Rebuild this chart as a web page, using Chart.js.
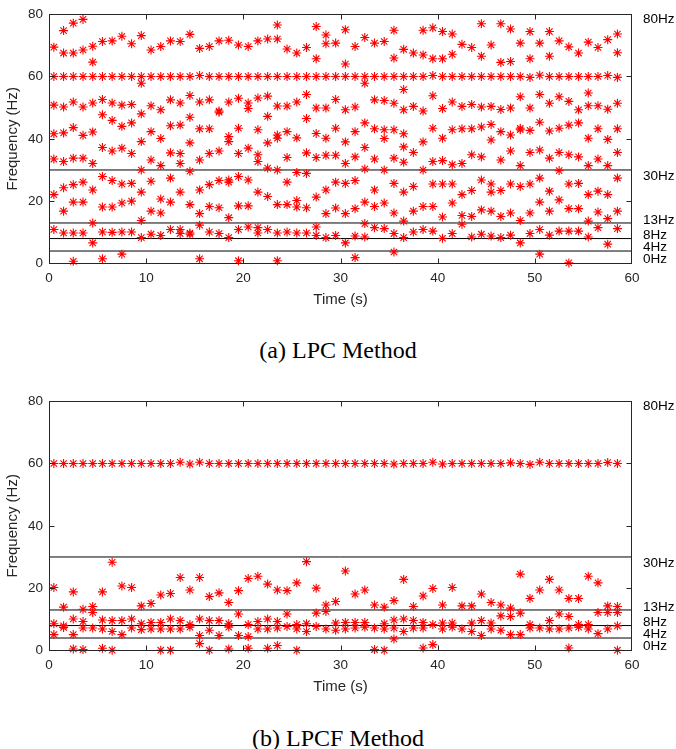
<!DOCTYPE html>
<html>
<head>
<meta charset="utf-8">
<script src="https://cdn.jsdelivr.net/npm/chart.js@4.4.1/dist/chart.umd.min.js"></script>
<style>
  body { margin: 0; background: #fff; width: 676px; height: 749px; position: relative; overflow: hidden; }
  .wrap { position: absolute; left: 0; width: 676px; height: 320px; }
  .cap { position: absolute; left: 0; width: 676px; text-align: center; font-family: 'Liberation Serif', 'Times New Roman', serif; font-size: 24px; line-height: 28px; color: #000; }
</style>
</head>
<body>
<div class="wrap" style="top:0"><canvas id="lpc"></canvas></div>
<div class="cap" style="top:336px">(a) LPC Method</div>
<div class="wrap" style="top:387px"><canvas id="lpcf"></canvas></div>
<div class="cap" style="top:724px">(b) LPCF Method</div>
<script>
// time of each analysis frame (s)
const seconds = [0.5, 1.5, 2.5, 3.5, 4.5, 5.5, 6.5, 7.5, 8.5, 9.5,
  10.5, 11.5, 12.5, 13.5, 14.5, 15.5, 16.5, 17.5, 18.5, 19.5,
  20.5, 21.5, 22.5, 23.5, 24.5, 25.5, 26.5, 27.5, 28.5, 29.5,
  30.5, 31.5, 32.5, 33.5, 34.5, 35.5, 36.5, 37.5, 38.5, 39.5,
  40.5, 41.5, 42.5, 43.5, 44.5, 45.5, 46.5, 47.5, 48.5, 49.5,
  50.5, 51.5, 52.5, 53.5, 54.5, 55.5, 56.5, 57.5, 58.5];

// LPC peak frequencies found in each frame (Hz)
const lpcFreqs = [
  [69.4, 60, 50.8, 41.6, 33.5, 22.1, 10.9],
  [74.7, 67.5, 60, 50.2, 41.9, 32.7, 24.3, 16.8, 9.8],
  [77.1, 67.5, 60, 51.8, 43.6, 33.8, 25.3, 19.7, 9.8, 0.7],
  [78.3, 68.5, 60, 50.2, 41.1, 33.8, 26.1, 19.7, 9.8],
  [69.7, 64.6, 60, 51.5, 42.2, 32.1, 23.6, 13.0, 6.6],
  [71.2, 60, 52.6, 47.7, 37.2, 27.9, 18.1, 10.1, 1.5],
  [71.4, 60, 51.5, 45.9, 36.1, 26.6, 18.1, 10.0],
  [72.9, 60, 50.8, 44.0, 37.0, 25.5, 19.4, 10.1, 3.0],
  [70.5, 60, 51.0, 45.1, 35.3, 25.7, 20.0, 10.1],
  [73.1, 60, 57.8, 48.0, 39.1, 30.0, 22.9, 13.8, 8.3],
  [68.5, 60, 50.6, 42.3, 33.2, 26.4, 16.8, 9.4],
  [69.6, 60, 49.3, 40.1, 31.4, 20.7, 16.2, 9.0],
  [71.4, 60, 52.5, 44.2, 35.5, 27.4, 19.7, 10.9],
  [71.2, 60, 51.5, 44.4, 35.3, 32.1, 22.9, 10.9, 9.6],
  [73.5, 60, 53.9, 46.9, 38.7, 29.6, 18.9, 9.8, 9.4],
  [69.0, 60.3, 51.8, 43.2, 33.2, 23.6, 16.0, 12.3, 1.5],
  [69.6, 60, 52.5, 43.2, 35.3, 25.3, 18.3, 10.1],
  [71.4, 60, 48.9, 48.5, 36.1, 26.6, 17.9, 9.6],
  [71.6, 60, 51.8, 40.7, 39.1, 26.8, 26.1, 14.7, 8.3],
  [70.1, 60, 53.0, 43.4, 35.3, 27.9, 18.5, 10.9, 0.9],
  [69.6, 60, 51.5, 49.7, 37.0, 26.8, 18.5, 11.7],
  [71.4, 60, 53.1, 42.9, 34.9, 32.7, 22.9, 11.5, 9.8],
  [72.0, 60, 53.7, 47.2, 38.7, 30.6, 21.5, 10.9],
  [76.5, 72.0, 60, 50.5, 41.2, 40.2, 30.0, 18.9, 9.8, 0.9],
  [68.8, 60, 50.5, 42.3, 34.0, 26.1, 18.9, 10.1],
  [67.5, 60, 51.8, 40.3, 29.2, 20.2, 18.1, 9.8],
  [69.3, 60, 54.2, 46.5, 35.5, 28.9, 17.9, 9.8],
  [76.0, 65.7, 60, 49.9, 41.7, 34.0, 21.3, 11.7, 9.0],
  [73.3, 70.5, 60, 49.9, 40.2, 34.7, 23.6, 16.0, 8.3],
  [70.7, 60, 52.6, 43.4, 34.7, 26.1, 17.8, 9.0],
  [75.0, 64.0, 60, 49.3, 39.0, 32.1, 25.7, 16.0, 6.6],
  [69.6, 60, 50.2, 42.3, 34.2, 26.6, 17.6, 8.8, 1.9],
  [72.5, 60, 57.8, 45.1, 37.2, 30.3, 19.7, 12.8, 8.5],
  [70.7, 60, 52.5, 43.2, 33.5, 23.6, 18.3, 11.5],
  [71.2, 60, 52.3, 42.9, 40.1, 30.0, 19.4, 11.2],
  [74.8, 65.9, 60, 51.4, 42.9, 33.8, 25.7, 16.2, 9.6, 3.7],
  [68.7, 60, 55.8, 49.3, 41.6, 37.4, 32.5, 22.9, 13.6, 8.3],
  [67.5, 60, 50.4, 35.6, 24.7, 16.8, 10.1],
  [74.8, 66.9, 60, 48.9, 39.0, 30.0, 18.3, 10.9],
  [75.6, 65.7, 60.3, 53.8, 43.4, 32.7, 25.5, 18.3, 10.4],
  [74.4, 65.7, 60, 49.7, 40.2, 33.0, 25.5, 14.9, 8.1],
  [73.6, 67.1, 60, 51.8, 42.9, 31.7, 25.5, 19.4, 9.6],
  [70.3, 60, 50.4, 43.2, 32.1, 22.1, 15.4, 12.6],
  [69.3, 60, 51.0, 43.2, 34.9, 23.4, 15.1, 8.5],
  [76.9, 66.5, 60, 50.2, 43.8, 34.2, 26.8, 17.2, 9.4],
  [70.1, 60, 50.4, 44.6, 39.6, 25.5, 22.9, 16.8, 8.8],
  [76.9, 64.5, 60, 49.4, 42.3, 33.2, 23.4, 15.1, 8.3],
  [75.2, 64.8, 60, 49.9, 41.2, 36.1, 25.5, 16.2, 9.1],
  [70.7, 60, 53.5, 43.4, 42.9, 31.4, 24.7, 13.8, 6.6],
  [74.4, 65.7, 59.7, 49.9, 42.7, 35.6, 25.5, 16.2, 9.6],
  [70.7, 60.4, 54.2, 45.3, 36.4, 27.4, 19.7, 10.9, 3.0],
  [74.4, 66.5, 60, 51.4, 42.5, 33.8, 23.2, 16.8, 9.1],
  [71.4, 60, 53.5, 43.4, 35.6, 29.8, 20.4, 10.4],
  [69.5, 60, 52.0, 44.4, 34.9, 25.5, 17.6, 10.4, 0.2],
  [67.5, 60, 49.3, 45.1, 34.2, 25.7, 17.6, 10.4],
  [71.0, 60, 54.7, 50.6, 40.2, 31.4, 22.1, 13.6, 8.5],
  [69.3, 60, 50.6, 43.2, 33.5, 23.2, 16.5, 11.5],
  [71.8, 60.3, 49.5, 39.8, 31.4, 22.1, 14.4, 6.2],
  [73.6, 67.6, 59.7, 51.4, 43.2, 35.6, 27.4, 16.8, 11.2]
];

// LPCF peak frequencies found in each frame (Hz)
const lpcfFreqs = [
  [60, 20.2, 8.6, 5.1],
  [60, 13.9, 7.9, 7.4],
  [60, 18.8, 10.1, 5.1, 0.5],
  [60, 13.2, 9.3, 7.2, 0.3],
  [60, 14.1, 12.2, 7.2],
  [60, 18.8, 9.8, 6.9, 0.7],
  [60, 28.3, 9.6, 6.1, 0.1],
  [60, 20.7, 9.6, 5.1],
  [60, 20.2, 10.1, 7.2],
  [60, 14.3, 8.6, 6.7],
  [60, 15.1, 9.0, 6.9],
  [60, 17.8, 9.0, 6.9, 0.1],
  [60, 18.3, 10.1, 6.9, 0.1],
  [60.4, 23.4, 9.6, 6.9],
  [59.8, 19.4, 8.3, 7.5],
  [60.4, 23.4, 10.1, 4.8, 2.2],
  [60, 17.3, 9.6, 6.5, 0.1],
  [60, 18.5, 9.6, 4.8],
  [60, 15.4, 8.6, 7.5, 0.5],
  [60, 19.2, 11.7, 4.8],
  [60, 23.1, 8.3, 4.5, 0.7],
  [60, 23.8, 9.3, 6.9],
  [60, 21.3, 10.1, 6.9, 0.7],
  [60, 19.4, 9.3, 7.2, 1.6],
  [60, 19.2, 11.7, 7.7],
  [60, 21.7, 8.3, 6.9, 0.1],
  [60, 28.5, 8.6, 6.1],
  [60, 20.0, 12.0, 7.7],
  [60, 14.6, 12.5, 6.9],
  [60, 15.7, 8.8, 6.5],
  [60, 25.5, 9.0, 6.9],
  [60, 18.1, 9.0, 7.2],
  [60, 19.4, 9.0, 7.5],
  [60, 14.6, 7.2, 0.3],
  [60, 13.9, 8.6, 6.9, 0.1],
  [59.8, 16.0, 9.8, 7.2, 3.7],
  [60, 22.8, 10.1, 6.1],
  [60, 14.1, 9.6, 7.2],
  [60, 17.5, 9.0, 7.2, 0.8],
  [60.4, 19.9, 8.3, 1.9],
  [59.8, 14.6, 8.8, 6.9],
  [60, 20.2, 8.8, 7.5],
  [60, 14.3, 6.9],
  [60, 14.3, 8.8, 6.1],
  [60, 18.1, 9.6, 4.8],
  [60, 15.4, 8.8, 6.9],
  [60, 14.6, 11.1, 6.5],
  [60.2, 13.6, 10.9, 5.1],
  [60, 24.5, 12.0, 5.1],
  [59.7, 16.7, 8.3, 7.2],
  [60.4, 19.4, 7.2],
  [60, 22.8, 9.6, 6.9],
  [60, 19.4, 11.7, 6.9],
  [60, 16.7, 10.9, 7.2, 0.8],
  [60, 16.7, 8.3, 7.5],
  [60, 23.8, 8.3, 6.9],
  [60, 21.7, 12.2, 5.4],
  [60.3, 14.3, 12.2, 6.9],
  [60, 14.1, 12.2, 7.9, 0.1]
];

// band boundaries and their labels on the right
const bandLines = [0, 4, 8, 13, 30];
const bandLabels = ['0Hz', '4Hz', '8Hz', '13Hz', '30Hz', '80Hz'];
const bandLabelAt = [1.4, 5.2, 9.2, 14.0, 28.1, 78.3];
const xTicks = [10, 20, 30, 40, 50];
const yTicks = [20, 40, 60];

Chart.defaults.font.family = "'Liberation Sans', Arial, Helvetica, sans-serif";
Chart.defaults.color = '#262626';

const bands = {
    id: 'bands',
    beforeDatasetsDraw(chart) {
        const { ctx, chartArea: a, scales: { y } } = chart;
        ctx.save();
        ctx.strokeStyle = '#000';
        ctx.lineWidth = 1;
        bandLines.forEach(v => {
            const py = y.getPixelForValue(v);
            ctx.beginPath();
            ctx.moveTo(a.left, py);
            ctx.lineTo(a.right, py);
            ctx.stroke();
        });
        ctx.restore();
    },
    afterDraw(chart) {
        const { ctx, chartArea: a, scales: { x, y } } = chart;
        ctx.save();
        ctx.strokeStyle = '#262626';
        ctx.lineWidth = 1;
        const l = Math.round(a.left) + 0.5, r = Math.round(a.right) - 0.5;
        const t = Math.round(a.top) + 0.5, b = Math.round(a.bottom) - 0.5;
        ctx.strokeRect(l, t, r - l, b - t);
        ctx.beginPath();
        xTicks.forEach(v => {
            const px = Math.round(x.getPixelForValue(v)) + 0.5;
            ctx.moveTo(px, b); ctx.lineTo(px, b - 5);
            ctx.moveTo(px, t); ctx.lineTo(px, t + 5);
        });
        yTicks.forEach(v => {
            const py = Math.round(y.getPixelForValue(v)) + 0.5;
            ctx.moveTo(l, py); ctx.lineTo(l + 5, py);
            ctx.moveTo(r, py); ctx.lineTo(r - 5, py);
        });
        ctx.stroke();
        ctx.fillStyle = '#000';
        ctx.font = "13.5px 'Liberation Sans', Arial, sans-serif";
        ctx.textAlign = 'left';
        ctx.textBaseline = 'middle';
        bandLabels.forEach((s, i) => {
            ctx.fillText(s, a.right + 11, y.getPixelForValue(bandLabelAt[i]));
        });
        ctx.restore();
    }
};

function makeChart(id, freqs) {
    const points = [];
    freqs.forEach((list, i) => list.forEach(f => points.push({ x: seconds[i], y: f })));
    return new Chart(document.getElementById(id), {
        type: 'scatter',
        data: {
            datasets: [{
                data: points,
                pointStyle: 'star',
                pointRadius: 4.5,
                pointBorderWidth: 1.1,
                borderColor: '#ff0000',
                backgroundColor: '#ff0000',
                clip: false
            }]
        },
        options: {
            responsive: true,
            maintainAspectRatio: false,
            animation: false,
            layout: { padding: { left: 0, top: 12.5, right: 44, bottom: 0 } },
            plugins: { legend: { display: false }, tooltip: { enabled: false } },
            scales: {
                x: {
                    type: 'linear', min: 0, max: 60,
                    ticks: { stepSize: 10, padding: 7, font: { size: 13.5 }, maxRotation: 0 },
                    grid: { display: false, drawTicks: false },
                    border: { display: false },
                    title: { display: true, text: 'Time (s)', font: { size: 15 }, padding: { top: 0, bottom: 11 } },
                    afterFit(s) { s.height = 56.5; }
                },
                y: {
                    min: 0, max: 80,
                    ticks: { stepSize: 20, padding: 6, font: { size: 13.5 } },
                    grid: { display: false, drawTicks: false },
                    border: { display: false },
                    title: { display: true, text: 'Frequency (Hz)', font: { size: 15 }, padding: { top: 3.5, bottom: 0 } },
                    afterFit(s) { s.width = 49; }
                }
            }
        },
        plugins: [bands]
    });
}

makeChart('lpc', lpcFreqs);
makeChart('lpcf', lpcfFreqs);
</script>
</body>
</html>
